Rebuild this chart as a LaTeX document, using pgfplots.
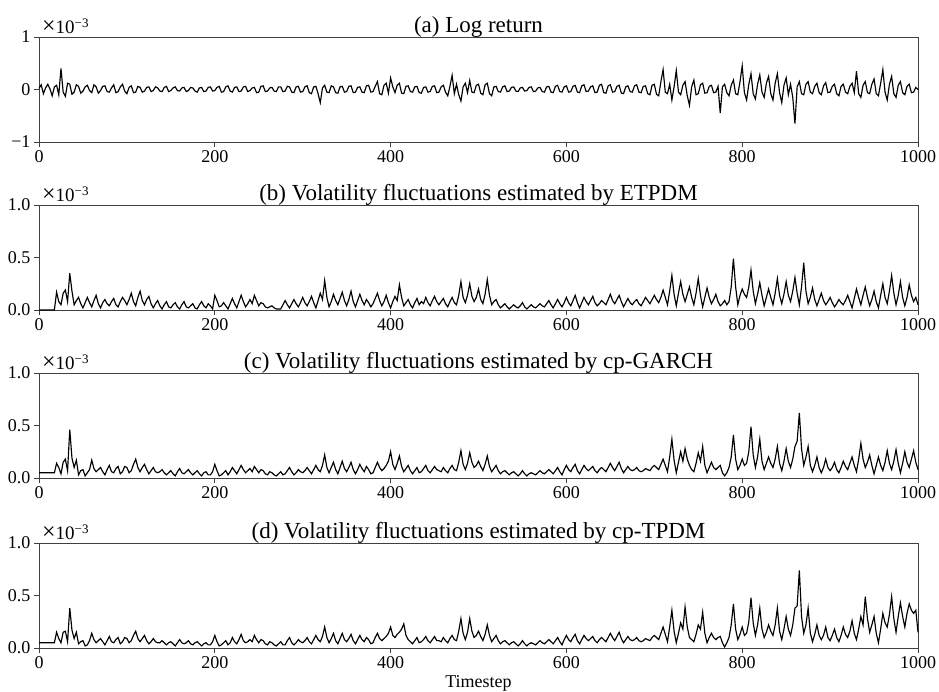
\documentclass[border=0pt]{standalone}
\usepackage{pgfplots}
\pgfplotsset{compat=1.18}
\usepackage{pgfplotstable}
\usepackage{fontspec}
\setmainfont{Liberation Serif}

\pgfplotstableread{
t a b c d
0 0.02 0 0.05 0.05
2.5 0.09 0 0.05 0.05
5 -0.08 0 0.05 0.05
7.5 0.03 0 0.05 0.05
10 0.10 0 0.05 0.05
12.5 0.01 0 0.05 0.05
15 -0.12 0 0.05 0.05
17.5 0.05 0 0.05 0.05
20 0.08 0.17 0.14 0.15
22.5 -0.10 0.08 0.10 0.09
25 0.40 0.05 0.04 0.05
27.5 -0.05 0.16 0.15 0.15
30 -0.13 0.19 0.18 0.16
32.5 0.12 0.08 0.07 0.06
35 0.10 0.35 0.46 0.38
37.5 -0.09 0.18 0.19 0.17
40 -0.05 0.05 0.10 0.09
42.5 0.09 0.09 0.17 0.15
45 0.06 0.12 0.03 0.04
47.5 -0.07 0.06 0.07 0.06
50 -0.03 0.02 0.08 0.07
52.5 0.05 0.07 0.02 0.02
55 0.08 0.12 0.05 0.03
57.5 -0.02 0.07 0.08 0.07
60 -0.06 0.03 0.17 0.14
62.5 0.09 0.09 0.09 0.08
65 0.05 0.14 0.06 0.05
67.5 -0.07 0.06 0.08 0.07
70 -0.02 0.02 0.10 0.09
72.5 0.06 0.07 0.06 0.06
75 0.07 0.10 0.03 0.03
77.5 -0.04 0.06 0.08 0.07
80 -0.05 0.04 0.12 0.11
82.5 0.03 0.08 0.06 0.06
85 0.09 0.11 0.05 0.05
87.5 -0.06 0.05 0.09 0.08
90 -0.04 0.03 0.11 0.10
92.5 0.05 0.08 0.04 0.04
95 0.10 0.12 0.06 0.06
97.5 -0.03 0.09 0.11 0.10
100 -0.08 0.05 0.10 0.09
102.5 0.04 0.10 0.05 0.05
105 0.07 0.16 0.07 0.07
107.5 -0.06 0.08 0.13 0.12
110 -0.05 0.04 0.18 0.16
112.5 0.06 0.12 0.10 0.09
115 0.04 0.18 0.06 0.06
117.5 -0.05 0.09 0.10 0.09
120 -0.03 0.05 0.13 0.12
122.5 0.04 0.10 0.08 0.07
125 0.05 0.13 0.04 0.04
127.5 -0.04 0.06 0.07 0.06
130 -0.02 0.02 0.10 0.09
132.5 0.05 0.06 0.06 0.06
135 0.03 0.09 0.05 0.05
137.5 -0.03 0.04 0.06 0.05
140 -0.04 0.01 0.08 0.07
142.5 0.04 0.05 0.05 0.05
145 0.06 0.08 0.03 0.03
147.5 -0.04 0.03 0.05 0.05
150 -0.02 0.02 0.07 0.06
152.5 0.03 0.05 0.04 0.04
155 0.05 0.07 0.02 0.02
157.5 -0.02 0.03 0.06 0.05
160 -0.03 0.01 0.09 0.08
162.5 0.03 0.05 0.05 0.05
165 0.04 0.08 0.04 0.04
167.5 -0.04 0.03 0.06 0.05
170 -0.02 0.02 0.08 0.07
172.5 0.04 0.04 0.05 0.04
175 0.03 0.06 0.03 0.03
177.5 -0.03 0.02 0.05 0.05
180 -0.05 0.01 0.07 0.06
182.5 0.03 0.05 0.04 0.04
185 0.04 0.08 0.02 0.02
187.5 -0.04 0.04 0.05 0.04
190 -0.03 0.02 0.06 0.05
192.5 0.04 0.06 0.03 0.03
195 0.05 0.04 0.03 0.03
197.5 -0.03 0.01 0.06 0.06
200 -0.02 0.14 0.13 0.12
202.5 0.04 0.09 0.07 0.06
205 0.06 0.03 0.02 0.02
207.5 -0.05 0.04 0.03 0.03
210 -0.04 0.07 0.05 0.05
212.5 0.05 0.04 0.07 0.07
215 0.07 0.01 0.03 0.03
217.5 -0.03 0.06 0.06 0.05
220 -0.05 0.11 0.10 0.10
222.5 0.04 0.06 0.07 0.06
225 0.05 0.02 0.04 0.04
227.5 -0.04 0.08 0.08 0.08
230 -0.03 0.14 0.12 0.13
232.5 0.05 0.08 0.08 0.07
235 0.06 0.03 0.05 0.05
237.5 -0.04 0.06 0.07 0.06
240 -0.02 0.10 0.09 0.08
242.5 0.03 0.06 0.06 0.06
245 0.04 0.14 0.11 0.12
247.5 -0.06 0.09 0.08 0.08
250 -0.05 0.04 0.05 0.05
252.5 0.06 0.07 0.08 0.08
255 0.07 0.06 0.07 0.07
257.5 -0.04 0.03 0.04 0.04
260 -0.03 0.02 0.03 0.03
262.5 0.03 0.03 0.06 0.06
265 0.04 0.04 0.05 0.05
267.5 -0.03 0.02 0.03 0.03
270 -0.04 0.01 0.02 0.02
272.5 0.05 0.01 0.04 0.04
275 0.05 0.01 0.06 0.06
277.5 -0.04 0.05 0.03 0.03
280 -0.03 0.09 0.04 0.03
282.5 0.06 0.05 0.07 0.07
285 0.05 0.02 0.10 0.10
287.5 -0.05 0.06 0.06 0.05
290 -0.06 0.10 0.03 0.03
292.5 0.05 0.06 0.05 0.05
295 0.06 0.03 0.08 0.08
297.5 -0.05 0.07 0.06 0.06
300 -0.04 0.12 0.05 0.05
302.5 0.05 0.07 0.07 0.07
305 0.07 0.04 0.10 0.10
307.5 -0.06 0.08 0.07 0.06
310 -0.08 0.13 0.04 0.04
312.5 0.05 0.07 0.08 0.08
315 0.06 0.02 0.12 0.12
317.5 -0.08 0.09 0.08 0.08
320 -0.25 0.16 0.06 0.06
322.5 0.03 0.10 0.12 0.11
325 0.08 0.28 0.22 0.20
327.5 -0.05 0.12 0.10 0.10
330 -0.06 0.03 0.05 0.05
332.5 0.07 0.08 0.10 0.09
335 0.05 0.15 0.15 0.14
337.5 -0.06 0.09 0.08 0.07
340 -0.07 0.05 0.04 0.04
342.5 0.05 0.11 0.10 0.09
345 0.06 0.17 0.16 0.14
347.5 -0.05 0.09 0.09 0.08
350 -0.04 0.04 0.06 0.06
352.5 0.06 0.10 0.10 0.09
355 0.07 0.18 0.15 0.13
357.5 -0.06 0.08 0.08 0.07
360 -0.05 0.03 0.04 0.04
362.5 0.04 0.09 0.08 0.08
365 0.05 0.15 0.13 0.12
367.5 -0.05 0.09 0.09 0.08
370 -0.06 0.05 0.06 0.06
372.5 0.07 0.10 0.11 0.10
375 0.08 0.07 0.08 0.08
377.5 -0.05 0.03 0.04 0.04
380 -0.04 0.06 0.05 0.05
382.5 0.06 0.11 0.10 0.10
385 0.15 0.16 0.15 0.14
387.5 -0.08 0.09 0.10 0.09
390 -0.10 0.04 0.07 0.07
392.5 0.08 0.08 0.09 0.09
395 0.12 0.14 0.12 0.11
397.5 -0.07 0.07 0.16 0.14
400 0.22 0.02 0.25 0.20
402.5 0.05 0.08 0.13 0.12
405 -0.06 0.13 0.08 0.10
407.5 0.08 0.09 0.14 0.13
410 0.12 0.24 0.21 0.15
412.5 -0.07 0.12 0.11 0.18
415 -0.08 0.04 0.06 0.23
417.5 0.06 0.07 0.09 0.12
420 0.07 0.10 0.12 0.08
422.5 -0.04 0.05 0.07 0.06
425 -0.05 0.02 0.04 0.04
427.5 0.05 0.07 0.07 0.07
430 0.06 0.11 0.10 0.10
432.5 -0.06 0.05 0.05 0.05
435 -0.07 0.08 0.06 0.06
437.5 0.04 0.06 0.09 0.08
440 0.05 0.12 0.12 0.11
442.5 -0.05 0.07 0.07 0.07
445 -0.04 0.04 0.05 0.05
447.5 0.06 0.09 0.08 0.08
450 0.07 0.13 0.11 0.11
452.5 -0.06 0.08 0.08 0.07
455 -0.05 0.05 0.07 0.07
457.5 0.05 0.08 0.06 0.06
460 0.08 0.11 0.10 0.10
462.5 -0.05 0.06 0.07 0.07
465 -0.12 0.03 0.05 0.05
467.5 0.06 0.08 0.09 0.09
470 0.27 0.12 0.12 0.12
472.5 -0.08 0.07 0.08 0.08
475 0.10 0.05 0.07 0.07
477.5 -0.10 0.14 0.15 0.16
480 -0.22 0.27 0.26 0.28
482.5 0.05 0.12 0.13 0.14
485 0.12 0.07 0.08 0.08
487.5 -0.06 0.14 0.14 0.15
490 0.17 0.25 0.24 0.28
492.5 -0.05 0.13 0.15 0.16
495 -0.06 0.08 0.10 0.10
497.5 0.08 0.12 0.12 0.12
500 0.10 0.20 0.16 0.16
502.5 -0.07 0.10 0.11 0.11
505 -0.10 0.06 0.07 0.07
507.5 0.09 0.15 0.13 0.13
510 0.12 0.29 0.21 0.22
512.5 -0.08 0.14 0.11 0.12
515 -0.12 0.05 0.06 0.06
517.5 0.05 0.08 0.09 0.09
520 0.06 0.10 0.12 0.12
522.5 -0.04 0.05 0.07 0.07
525 -0.05 0.02 0.04 0.04
527.5 0.05 0.04 0.06 0.06
530 0.07 0.06 0.07 0.07
532.5 -0.04 0.03 0.05 0.05
535 -0.03 0.01 0.03 0.03
537.5 0.04 0.03 0.05 0.05
540 0.05 0.05 0.06 0.06
542.5 -0.03 0.03 0.04 0.04
545 -0.04 0.02 0.02 0.02
547.5 0.03 0.04 0.04 0.04
550 0.04 0.07 0.07 0.07
552.5 -0.03 0.03 0.04 0.04
555 -0.02 0.01 0.02 0.02
557.5 0.04 0.03 0.04 0.04
560 0.05 0.05 0.05 0.05
562.5 -0.04 0.03 0.04 0.04
565 -0.03 0.02 0.03 0.03
567.5 0.03 0.04 0.05 0.05
570 0.04 0.06 0.07 0.07
572.5 -0.04 0.04 0.05 0.05
575 -0.05 0.03 0.04 0.04
577.5 0.05 0.06 0.06 0.06
580 0.06 0.09 0.08 0.08
582.5 -0.05 0.05 0.06 0.06
585 -0.06 0.02 0.04 0.04
587.5 0.06 0.06 0.07 0.07
590 0.08 0.10 0.10 0.10
592.5 -0.04 0.06 0.06 0.06
595 -0.05 0.03 0.03 0.03
597.5 0.05 0.07 0.08 0.08
600 0.07 0.12 0.12 0.12
602.5 -0.05 0.07 0.08 0.08
605 -0.04 0.04 0.06 0.06
607.5 0.06 0.09 0.10 0.10
610 0.08 0.14 0.13 0.13
612.5 -0.05 0.07 0.07 0.07
615 -0.06 0.02 0.04 0.04
617.5 0.07 0.07 0.08 0.08
620 0.09 0.12 0.12 0.12
622.5 -0.04 0.08 0.09 0.09
625 -0.03 0.05 0.07 0.07
627.5 0.05 0.09 0.09 0.09
630 0.07 0.13 0.11 0.11
632.5 -0.06 0.07 0.07 0.07
635 -0.05 0.04 0.05 0.05
637.5 0.08 0.06 0.08 0.08
640 0.10 0.09 0.10 0.10
642.5 -0.06 0.07 0.08 0.08
645 -0.07 0.05 0.06 0.06
647.5 0.07 0.10 0.10 0.10
650 0.09 0.15 0.14 0.14
652.5 -0.05 0.09 0.10 0.10
655 -0.04 0.06 0.07 0.07
657.5 0.06 0.10 0.11 0.11
660 0.08 0.14 0.15 0.15
662.5 -0.07 0.08 0.09 0.09
665 -0.08 0.03 0.05 0.05
667.5 0.05 0.07 0.08 0.08
670 0.07 0.11 0.11 0.11
672.5 -0.04 0.07 0.08 0.08
675 -0.05 0.05 0.07 0.07
677.5 0.07 0.08 0.08 0.08
680 0.09 0.10 0.10 0.10
682.5 -0.05 0.06 0.07 0.07
685 -0.06 0.04 0.06 0.06
687.5 0.06 0.08 0.07 0.07
690 0.07 0.12 0.09 0.09
692.5 -0.08 0.09 0.08 0.08
695 -0.10 0.06 0.07 0.07
697.5 0.08 0.10 0.10 0.10
700 0.10 0.14 0.12 0.12
702.5 -0.09 0.10 0.10 0.10
705 -0.12 0.07 0.08 0.08
707.5 0.15 0.12 0.13 0.14
710 0.38 0.19 0.18 0.20
712.5 -0.05 0.12 0.12 0.13
715 -0.08 0.05 0.06 0.06
717.5 0.10 0.18 0.20 0.20
720 -0.20 0.33 0.37 0.36
722.5 0.05 0.15 0.17 0.16
725 0.36 0.04 0.05 0.05
727.5 -0.05 0.16 0.15 0.14
730 -0.10 0.27 0.25 0.24
732.5 0.08 0.15 0.16 0.18
735 0.15 0.08 0.28 0.39
737.5 -0.12 0.15 0.18 0.20
740 -0.30 0.22 0.12 0.10
742.5 0.05 0.12 0.08 0.08
745 0.18 0.05 0.06 0.06
747.5 -0.10 0.16 0.14 0.13
750 -0.08 0.30 0.24 0.22
752.5 0.09 0.14 0.16 0.18
755 0.12 0.03 0.30 0.34
757.5 -0.07 0.12 0.12 0.14
760 -0.06 0.21 0.05 0.05
762.5 0.06 0.12 0.10 0.10
765 0.08 0.06 0.15 0.14
767.5 -0.06 0.10 0.10 0.10
770 -0.05 0.15 0.08 0.08
772.5 0.06 0.08 0.10 0.10
775 -0.45 0.04 0.12 0.11
777.5 0.05 0.06 0.05 0.05
780 0.10 0.09 0.02 0.01
782.5 -0.06 0.05 0.05 0.05
785 -0.12 0.08 0.10 0.10
787.5 0.08 0.22 0.20 0.22
790 0.18 0.49 0.41 0.42
792.5 -0.08 0.22 0.18 0.18
795 -0.10 0.05 0.08 0.08
797.5 0.15 0.14 0.12 0.13
800 0.45 0.20 0.18 0.20
802.5 -0.06 0.15 0.12 0.12
805 -0.20 0.12 0.14 0.14
807.5 0.10 0.22 0.25 0.25
810 0.30 0.38 0.49 0.48
812.5 -0.08 0.18 0.22 0.24
815 -0.18 0.06 0.10 0.12
817.5 0.10 0.15 0.20 0.22
820 0.28 0.26 0.37 0.38
822.5 -0.05 0.14 0.16 0.18
825 -0.15 0.04 0.08 0.10
827.5 0.12 0.12 0.14 0.15
830 0.25 0.20 0.20 0.22
832.5 -0.08 0.12 0.14 0.16
835 -0.20 0.05 0.10 0.12
837.5 0.12 0.16 0.18 0.22
840 0.30 0.30 0.30 0.38
842.5 -0.06 0.14 0.14 0.16
845 -0.25 0.06 0.07 0.08
847.5 0.08 0.15 0.16 0.18
850 0.22 0.27 0.28 0.30
852.5 -0.10 0.14 0.16 0.18
855 0.10 0.08 0.10 0.12
857.5 -0.15 0.18 0.18 0.22
860 -0.65 0.31 0.30 0.38
862.5 0.05 0.16 0.35 0.40
865 0.15 0.05 0.62 0.74
867.5 -0.08 0.22 0.28 0.30
870 -0.10 0.45 0.12 0.14
872.5 0.10 0.18 0.20 0.22
875 0.15 0.06 0.30 0.38
877.5 -0.05 0.12 0.12 0.14
880 -0.08 0.21 0.06 0.06
882.5 0.06 0.10 0.12 0.13
885 0.12 0.04 0.20 0.22
887.5 -0.06 0.10 0.10 0.12
890 -0.10 0.16 0.05 0.08
892.5 0.07 0.09 0.10 0.12
895 0.13 0.05 0.18 0.20
897.5 -0.06 0.08 0.10 0.10
900 -0.05 0.12 0.07 0.07
902.5 0.06 0.07 0.10 0.12
905 0.10 0.03 0.15 0.18
907.5 -0.08 0.06 0.08 0.10
910 -0.12 0.10 0.05 0.06
912.5 0.06 0.07 0.10 0.12
915 0.10 0.05 0.16 0.20
917.5 -0.05 0.09 0.11 0.13
920 -0.08 0.14 0.08 0.10
922.5 0.06 0.08 0.14 0.16
925 0.12 0.02 0.20 0.26
927.5 -0.06 0.11 0.12 0.14
930 0.35 0.20 0.06 0.08
932.5 -0.08 0.12 0.18 0.18
935 -0.15 0.05 0.33 0.30
937.5 0.08 0.14 0.18 0.22
940 0.15 0.22 0.10 0.49
942.5 -0.06 0.12 0.15 0.28
945 -0.08 0.04 0.22 0.15
947.5 0.10 0.10 0.12 0.22
950 0.20 0.18 0.04 0.30
952.5 -0.08 0.08 0.12 0.14
955 -0.12 0.02 0.20 0.05
957.5 0.12 0.14 0.12 0.18
960 0.38 0.25 0.07 0.33
962.5 -0.05 0.12 0.15 0.24
965 -0.20 0.06 0.26 0.20
967.5 0.10 0.18 0.14 0.32
970 0.25 0.33 0.08 0.49
972.5 -0.08 0.16 0.16 0.28
975 -0.15 0.05 0.27 0.15
977.5 0.08 0.14 0.14 0.30
980 0.15 0.27 0.05 0.43
982.5 -0.06 0.12 0.14 0.30
985 -0.10 0.04 0.25 0.20
987.5 0.06 0.12 0.15 0.33
990 0.10 0.24 0.10 0.42
992.5 -0.06 0.14 0.18 0.36
995 -0.05 0.08 0.26 0.33
997.5 0.04 0.12 0.15 0.36
1000 0.00 0.05 0.08 0.15
}\data

\pgfplotsset{
  panel/.style={
    scale only axis, width=879pt, height=105pt,
    anchor=north west,
    xmin=0, xmax=1000,
    xtick={0,200,400,600,800,1000},
    xticklabels={0,200,400,600,800,1000},
    tick align=outside,
    major tick length=5pt,
    axis line style={draw=black!75, line width=0.9pt},
    every tick/.style={black!75, line width=0.9pt},
    tick label style={font=\fontsize{18}{20}\selectfont},
    title style={font=\fontsize{23}{26}\selectfont, yshift=-10pt},
    label style={font=\fontsize{18}{20}\selectfont},
    xtick pos=bottom, ytick pos=left,
    clip=false,
  },
  vol/.style={ymin=0, ymax=1, ytick={0,0.5,1}, yticklabels={0.0,0.5,1.0}},
}

\newcommand{\sci}{\node[anchor=base west, inner sep=0pt] at (rel axis cs:0,1) [yshift=4pt, xshift=3pt] {{\fontsize{24}{24}\selectfont ×}{\fontsize{19}{20}\selectfont 10}\raisebox{1.15ex}{\fontsize{13}{13}\selectfont −3}};}

\begin{document}
\begin{tikzpicture}
\useasboundingbox (0,0) rectangle (939pt,-691pt);
\begin{axis}[panel, at={(39pt,-37pt)}, ymin=-1, ymax=1, ytick={-1,0,1}, yticklabels={−1,0,1}, title={(a) Log return}]
\addplot[black, line width=1.15pt] table[x=t, y=a] {\data};
\sci
\end{axis}
\begin{axis}[panel, vol, at={(39pt,-205pt)}, title={(b) Volatility fluctuations estimated by ETPDM}]
\addplot[black, line width=1.15pt] table[x=t, y=b] {\data};
\sci
\end{axis}
\begin{axis}[panel, vol, at={(39pt,-373pt)}, title={(c) Volatility fluctuations estimated by cp-GARCH}]
\addplot[black, line width=1.15pt] table[x=t, y=c] {\data};
\sci
\end{axis}
\begin{axis}[panel, vol, at={(39pt,-543pt)}, title={(d) Volatility fluctuations estimated by cp-TPDM}, xlabel={Timestep}]
\addplot[black, line width=1.15pt] table[x=t, y=d] {\data};
\sci
\end{axis}
\end{tikzpicture}
\end{document}
